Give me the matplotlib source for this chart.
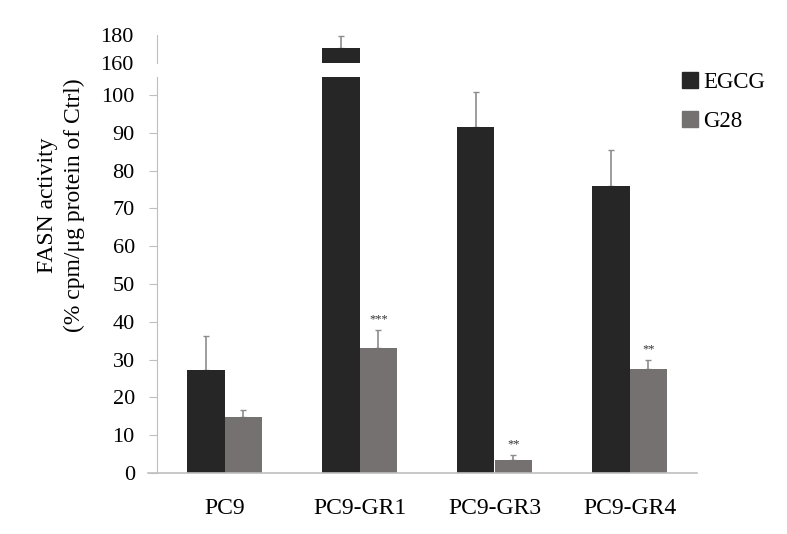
import numpy as np
import matplotlib
matplotlib.use("Agg")
import matplotlib.pyplot as plt
from matplotlib.lines import Line2D

# data
groups = ["PC9", "PC9-GR1", "PC9-GR3", "PC9-GR4"]
egcg = [27.2, 170.7, 91.5, 76.0]
egcg_err = [9.0, 8.3, 9.3, 9.4]
g28 = [14.8, 33.0, 3.4, 27.5]
g28_err = [1.8, 4.8, 1.4, 2.5]
g28_stars = ["", "***", "**", "**"]

c_egcg = "#262626"
c_g28 = "#767171"
c_axis = "#bfbfbf"
c_err = "#8c8c8c"

plt.rcParams["font.family"] = ["Liberation Serif", "DejaVu Serif"]

W, H = 787, 534
fig = plt.figure(figsize=(W / 100, H / 100), dpi=100)

left, right = 157 / W, 697 / W
ax = fig.add_axes([left, (H - 473) / H, right - left, (473 - 77) / H])
ax_top = fig.add_axes([left, (H - 63) / H, right - left, (63 - 35) / H])

x = np.arange(len(groups))
w = 0.28

for a in (ax, ax_top):
    a.bar(x - w / 2, egcg, w, color=c_egcg, zorder=2)
    a.bar(x + w / 2, g28, w, color=c_g28, zorder=2)
    a.errorbar(x - w / 2, egcg, yerr=[np.zeros(4), egcg_err], fmt="none",
               ecolor=c_err, elinewidth=1.2, capsize=2, zorder=1)
    a.errorbar(x + w / 2, g28, yerr=[np.zeros(4), g28_err], fmt="none",
               ecolor=c_err, elinewidth=1.2, capsize=2, zorder=1)
    a.set_xlim(-0.5, 3.5)
    for s in ("top", "right"):
        a.spines[s].set_visible(False)
    a.spines["left"].set_color(c_axis)

# lower part
ax.set_ylim(0, 104.8)
ax.set_yticks(np.arange(0, 101, 10))
ax.spines["bottom"].set_visible(False)
ax.plot([-0.017, 1], [0, 0], transform=ax.transAxes, color=c_axis,
        lw=1.2, clip_on=False, zorder=3)
ax.tick_params(axis="y", length=6, color=c_axis, labelsize=16, pad=10)
ax.tick_params(axis="x", length=0, labelsize=17, pad=18)
ax.set_xticks(x)
ax.set_xticklabels(groups)

for i, s in enumerate(g28_stars):
    if s:
        ax.text(x[i] + w / 2, g28[i] + g28_err[i] + 1.2, s, ha="center",
                va="bottom", fontsize=9, color="#333333")

# upper part of the broken axis
ax_top.set_ylim(160, 180)
ax_top.set_yticks([160, 180])
ax_top.spines["bottom"].set_visible(False)
ax_top.tick_params(axis="y", length=0, labelsize=16, pad=17)
ax_top.set_xticks([])

fig.text(61 / W, 1 - 205 / H, "FASN activity\n(% cpm/\u03bcg protein of Ctrl)",
         rotation=90, ha="center", va="center", fontsize=17, linespacing=1.35)

handles = [Line2D([], [], marker="s", ls="none", markersize=11, color=c_egcg),
           Line2D([], [], marker="s", ls="none", markersize=11, color=c_g28)]
fig.legend(handles, ["EGCG", "G28"], loc="upper left",
           bbox_to_anchor=(660 / W, 1 - 51 / H), frameon=False,
           fontsize=16.5, handlelength=0.8, handletextpad=0.2,
           labelspacing=0.8)

fig.savefig("out.png", dpi=100)
